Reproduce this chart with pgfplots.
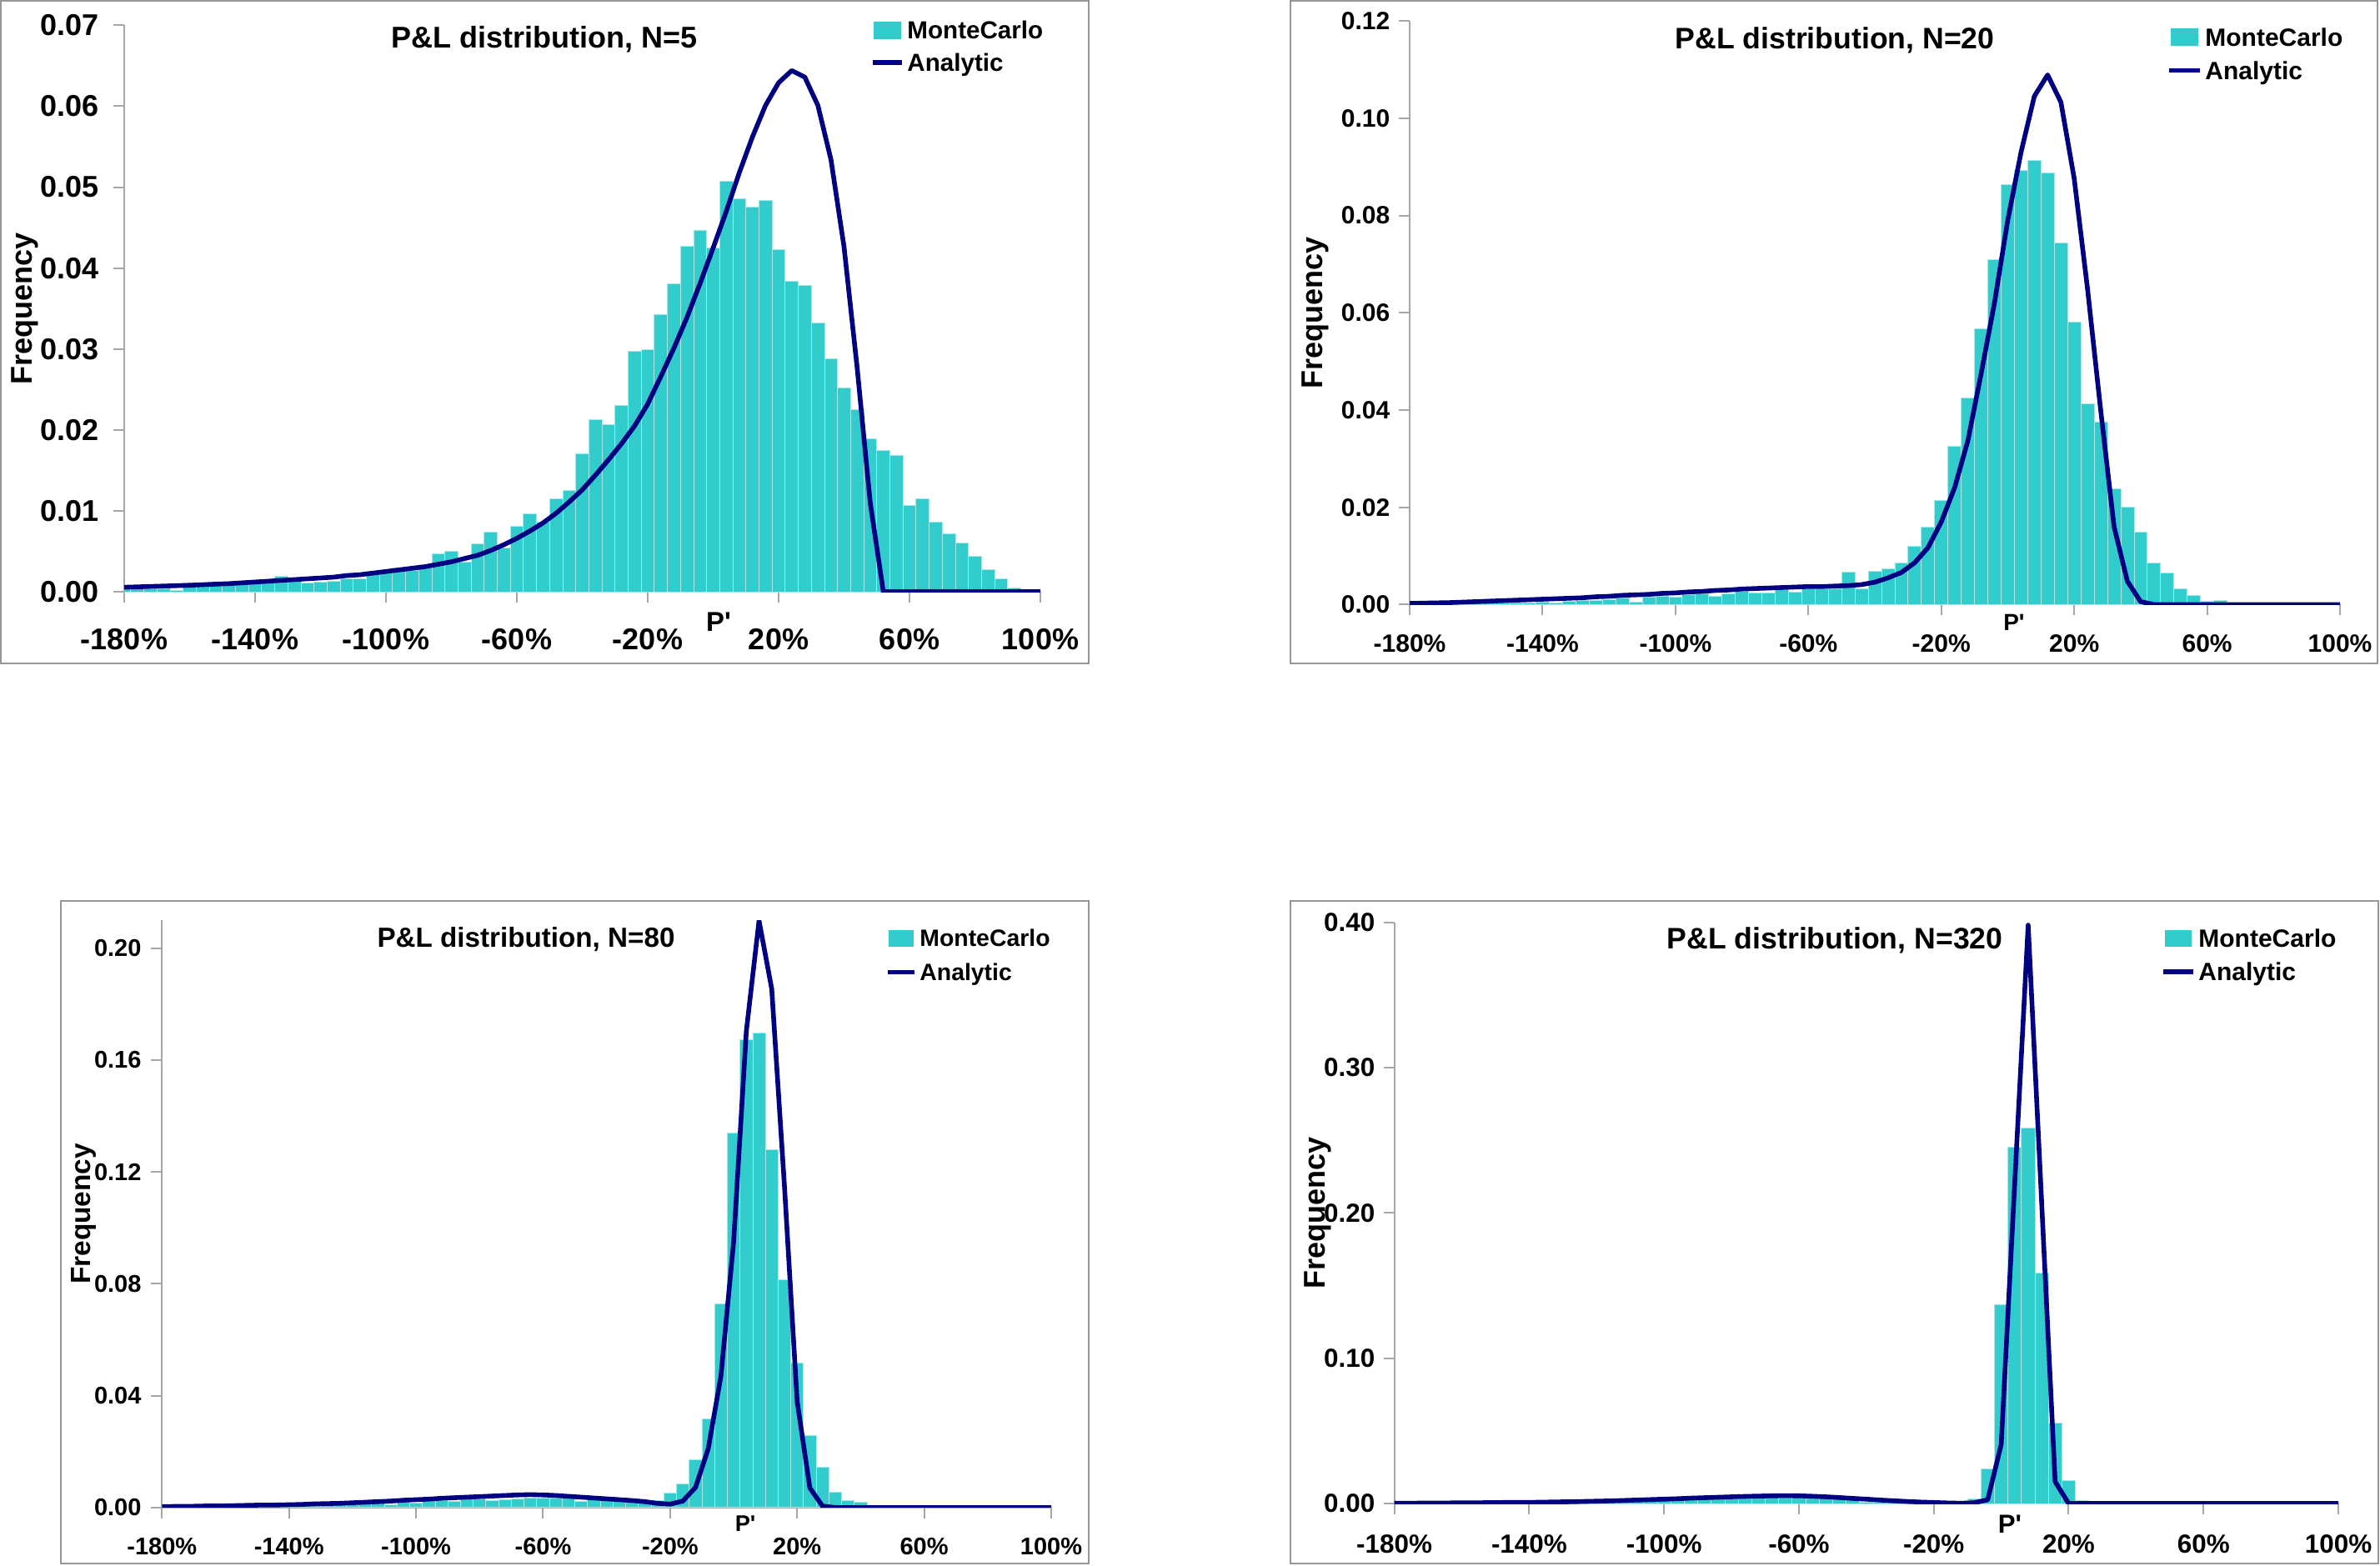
\documentclass[border=0pt]{standalone}
\usepackage{fontspec}
\setmainfont{Liberation Sans}
\usepackage{pgfplots}
\usepackage{pgfplotstable}
\pgfplotsset{compat=1.18}
\definecolor{turq}{RGB}{51,204,204}
\definecolor{navy}{RGB}{0,0,128}
\definecolor{axgray}{RGB}{166,166,166}
\definecolor{frgray}{RGB}{150,150,150}
\definecolor{barline}{RGB}{170,232,232}

\pgfplotstableread{
c mc an
-180 0.0004 0.00055
-176 0.0004 0.0006
-172 0.0004 0.00065
-168 0.0004 0.0007
-164 0.0002 0.00075
-160 0.0011 0.0008
-156 0.0010 0.00087
-152 0.0010 0.00094
-148 0.0011 0.0010
-144 0.0012 0.0011
-140 0.0013 0.0012
-136 0.0015 0.0013
-132 0.0019 0.0014
-128 0.0016 0.0015
-124 0.0011 0.0016
-120 0.0012 0.0017
-116 0.0013 0.0018
-112 0.0016 0.0020
-108 0.0016 0.0021
-104 0.0025 0.0023
-100 0.0024 0.0025
-96 0.0029 0.0027
-92 0.0026 0.0029
-88 0.0033 0.0031
-84 0.0047 0.0034
-80 0.0050 0.0037
-76 0.0037 0.0041
-72 0.0059 0.0045
-68 0.0074 0.0051
-64 0.0054 0.0058
-60 0.0081 0.0066
-56 0.0096 0.0075
-52 0.0086 0.0085
-48 0.0115 0.0097
-44 0.0125 0.0111
-40 0.0171 0.0126
-36 0.0213 0.0144
-32 0.0207 0.0163
-28 0.0230 0.0183
-24 0.0297 0.0205
-20 0.0299 0.0232
-16 0.0343 0.0266
-12 0.0381 0.0301
-8 0.0427 0.0339
-4 0.0447 0.0381
0 0.0425 0.0425
4 0.0507 0.0470
8 0.0486 0.0518
12 0.0475 0.0562
16 0.0484 0.0601
20 0.0423 0.0629
24 0.0384 0.0644
28 0.0379 0.0636
32 0.0332 0.0601
36 0.0288 0.0534
40 0.0252 0.0426
44 0.0225 0.0277
48 0.0189 0.0110
52 0.0175 0
56 0.0169 0
60 0.0107 0
64 0.0115 0
68 0.0086 0
72 0.0072 0
76 0.0060 0
80 0.0044 0
84 0.0027 0
88 0.0016 0
92 0.0005 0
96 0.0001 0
100 0 0
}\tA

\pgfplotstableread{
c mc an
-180 0.0002 0.00023
-176 0.0002 0.0003
-172 0.0002 0.00035
-168 0.0003 0.0004
-164 0.0003 0.0005
-160 0.0003 0.0006
-156 0.0003 0.0007
-152 0.0004 0.0008
-148 0.0004 0.0009
-144 0.0004 0.0010
-140 0.0005 0.0011
-136 0.0004 0.0012
-132 0.0007 0.0013
-128 0.0008 0.0014
-124 0.0008 0.0016
-120 0.0011 0.0017
-116 0.0013 0.0019
-112 0.0005 0.0020
-108 0.0016 0.0021
-104 0.0018 0.0023
-100 0.0016 0.0024
-96 0.0021 0.0026
-92 0.0023 0.0027
-88 0.0017 0.0029
-84 0.0022 0.0030
-80 0.0028 0.0032
-76 0.0024 0.0033
-72 0.0024 0.0034
-68 0.0031 0.0035
-64 0.0026 0.0036
-60 0.0032 0.0037
-56 0.0032 0.0037
-52 0.0032 0.0038
-48 0.0067 0.0039
-44 0.0033 0.0041
-40 0.0069 0.0046
-36 0.0074 0.0055
-32 0.0086 0.0066
-28 0.0120 0.0086
-24 0.0160 0.0117
-20 0.0214 0.0170
-16 0.0326 0.0240
-12 0.0425 0.0337
-8 0.0567 0.0475
-4 0.0710 0.0620
0 0.0863 0.0790
4 0.0892 0.0930
8 0.0914 0.1045
12 0.0888 0.1089
16 0.0743 0.1033
20 0.0581 0.0876
24 0.0413 0.0650
28 0.0376 0.0398
32 0.0238 0.0160
36 0.0200 0.0048
40 0.0149 0.0006
44 0.0086 0
48 0.0065 0
52 0.0032 0
56 0.0019 0
60 0.0007 0
64 0.0009 0
68 0 0
72 0 0
76 0 0
80 0 0
84 0 0
88 0 0
92 0 0
96 0 0
100 0 0
}\tB

\pgfplotstableread{
c mc an
-180 0.0002 0.0003
-176 0.0002 0.0004
-172 0.0003 0.0004
-168 0.0003 0.0005
-164 0.0004 0.0006
-160 0.0004 0.0006
-156 0.0005 0.0007
-152 0.0005 0.0008
-148 0.0006 0.0009
-144 0.0006 0.0009
-140 0.0007 0.0010
-136 0.0008 0.0011
-132 0.0009 0.0013
-128 0.0010 0.0014
-124 0.0015 0.0015
-120 0.0010 0.0017
-116 0.0013 0.0019
-112 0.0015 0.0021
-108 0.0011 0.0023
-104 0.0018 0.0026
-100 0.0015 0.0028
-96 0.0025 0.0030
-92 0.0026 0.0033
-88 0.0023 0.0035
-84 0.0030 0.0037
-80 0.0030 0.0039
-76 0.0026 0.0041
-72 0.0027 0.0043
-68 0.0032 0.0045
-64 0.0035 0.0046
-60 0.0035 0.0045
-56 0.0035 0.0043
-52 0.0034 0.0040
-48 0.0021 0.0037
-44 0.0027 0.0034
-40 0.0025 0.0031
-36 0.0023 0.0028
-32 0.0028 0.0025
-28 0.0024 0.0021
-24 0.0024 0.0015
-20 0.0051 0.0012
-16 0.0085 0.0023
-12 0.0172 0.0072
-8 0.0318 0.0210
-4 0.0728 0.0470
0 0.1338 0.0950
4 0.1672 0.1703
8 0.1696 0.2098
12 0.1279 0.1854
16 0.0815 0.1150
20 0.0518 0.0380
24 0.0259 0.0070
28 0.0145 0.0005
32 0.0054 0
36 0.0026 0
40 0.0018 0
44 0 0
48 0 0
52 0 0
56 0 0
60 0 0
64 0 0
68 0 0
72 0 0
76 0 0
80 0 0
84 0 0
88 0 0
92 0 0
96 0 0
100 0 0
}\tC

\pgfplotstableread{
c mc an
-180 0.0001 0.0002
-176 0.0001 0.0002
-172 0.0001 0.0003
-168 0.0002 0.0003
-164 0.0002 0.0004
-160 0.0002 0.0005
-156 0.0002 0.0005
-152 0.0003 0.0006
-148 0.0003 0.0007
-144 0.0003 0.0008
-140 0.0004 0.0008
-136 0.0004 0.0009
-132 0.0005 0.0011
-128 0.0005 0.0012
-124 0.0006 0.0014
-120 0.0010 0.0016
-116 0.0013 0.0018
-112 0.0015 0.0021
-108 0.0018 0.0024
-104 0.0021 0.0027
-100 0.0023 0.0030
-96 0.0026 0.0033
-92 0.0029 0.0037
-88 0.0031 0.0040
-84 0.0034 0.0043
-80 0.0030 0.0046
-76 0.0039 0.0049
-72 0.0041 0.0051
-68 0.0042 0.0053
-64 0.0043 0.0054
-60 0.0042 0.0053
-56 0.0040 0.0050
-52 0.0036 0.0046
-48 0.0032 0.0041
-44 0.0027 0.0035
-40 0.0012 0.0030
-36 0.0009 0.0024
-32 0.0007 0.0019
-28 0.0005 0.0014
-24 0.0004 0.0010
-20 0.0003 0.0007
-16 0.0004 0.0004
-12 0.0012 0.0002
-8 0.0031 0.0005
-4 0.0236 0.0026
0 0.1371 0.0406
4 0.2453 0.2200
8 0.2582 0.3980
12 0.1586 0.2070
16 0.0556 0.0150
20 0.0160 0
24 0.0021 0
28 0 0
32 0 0
36 0 0
40 0 0
44 0 0
48 0 0
52 0 0
56 0 0
60 0 0
64 0 0
68 0 0
72 0 0
76 0 0
80 0 0
84 0 0
88 0 0
92 0 0
96 0 0
100 0 0
}\tD

\pgfplotsset{
  pl/.style={
    scale only axis,
    axis lines=left,
    axis line style={-, draw=axgray, line width=0.5pt},
    tick style={draw=axgray, line width=0.5pt},
    tick align=outside,
    major tick length=3.25pt,
    xmin=-180, xmax=100, ymin=0,
    xtick={-180,-140,-100,-60,-20,20,60,100},
    xticklabels={-180\%,-140\%,-100\%,-60\%,-20\%,20\%,60\%,100\%},
    scaled y ticks=false,
    /pgf/number format/assume math mode=true,
    yticklabel style={/pgf/number format/fixed, /pgf/number format/fixed zerofill, /pgf/number format/precision=2, anchor=east, inner sep=0pt},
    xticklabel style={anchor=base, inner sep=0pt},
    legend cell align=left,
  },
  mcbar/.style={ybar, bar width=4, bar shift=0pt, fill=turq, draw=barline, line width=0.2pt},
  anline/.style={sharp plot, no marks, draw=navy, line width=1.4pt, line join=round},
}

\begin{document}
\begin{tikzpicture}
\useasboundingbox (0,0) rectangle (713.75pt,469.5pt);
\draw[frgray, line width=0.5pt] (0.25pt,469.25pt) rectangle (326.5pt,270.5pt);
\draw[frgray, line width=0.5pt] (387pt,469.25pt) rectangle (713pt,270.5pt);
\draw[frgray, line width=0.5pt] (18.25pt,199.35pt) rectangle (326.5pt,0.5pt);
\draw[frgray, line width=0.5pt] (387pt,199.35pt) rectangle (713.25pt,0.5pt);

% ---------- Panel 1: N=5
\begin{axis}[pl,
  at={(37.25pt,292pt)}, anchor=south west,
  width=274.75pt, height=169.925pt,
  ymax=0.07, ytick={0,0.01,0.02,0.03,0.04,0.05,0.06,0.07},
  tick label style={font=\fontsize{9}{10}\selectfont\bfseries},
  yticklabel style={xshift=-4.25pt},
  xticklabel style={yshift=-14pt},
  title={P\&L distribution, N=5},
  every axis title/.style={at={(axis description cs:0.4586,0.9593)}, anchor=base, inner sep=0pt, font=\fontsize{9}{10}\selectfont\bfseries},
  xlabel={P\textquotesingle},
  every axis x label/.style={at={(axis description cs:0.6488,-0.0706)}, anchor=base, inner sep=0pt, font=\fontsize{8.2}{9}\selectfont\bfseries},
  ylabel={Frequency},
  every axis y label/.style={at={(axis description cs:-0.101,0.5)}, rotate=90, anchor=base, inner sep=0pt, font=\fontsize{9}{10}\selectfont\bfseries},
  legend style={at={(axis description cs:0.8135,1.0083)}, anchor=north west, draw=none, fill=none, inner sep=0pt, row sep=2.8pt, font=\fontsize{7.4}{8}\selectfont\bfseries, nodes={inner xsep=1pt, inner ysep=0pt}},
]
\addplot[mcbar, legend image code/.code={\fill[turq] (0.375pt,-1.75pt) rectangle (8.375pt,3.25pt);}] table[x=c,y=mc]{\tA};
\addlegendentry{MonteCarlo}
\addplot[anline, legend image code/.code={\draw[navy, line width=1.4pt] (0pt,0.7pt) -- (8.75pt,0.7pt);}] table[x=c,y=an]{\tA};
\addlegendentry{Analytic}
\end{axis}

% ---------- Panel 2: N=20
\begin{axis}[pl,
  at={(422.75pt,288.15pt)}, anchor=south west,
  width=279pt, height=175.075pt,
  ymax=0.12, ytick={0,0.02,0.04,0.06,0.08,0.10,0.12},
  tick label style={font=\fontsize{7.5}{9}\selectfont\bfseries},
  yticklabel style={xshift=-2.5pt},
  xticklabel style={yshift=-10.9pt},
  title={P\&L distribution, N=20},
  every axis title/.style={at={(axis description cs:0.457,0.9522)}, anchor=base, inner sep=0pt, font=\fontsize{8.9}{10}\selectfont\bfseries},
  xlabel={P\textquotesingle},
  every axis x label/.style={at={(axis description cs:0.6496,-0.0448)}, anchor=base, inner sep=0pt, font=\fontsize{7}{8}\selectfont\bfseries},
  ylabel={Frequency},
  every axis y label/.style={at={(axis description cs:-0.0941,0.5)}, rotate=90, anchor=base, inner sep=0pt, font=\fontsize{9}{10}\selectfont\bfseries},
  legend style={at={(axis description cs:0.8127,0.989)}, anchor=north west, draw=none, fill=none, inner sep=0pt, row sep=3.0pt, font=\fontsize{7.5}{8}\selectfont\bfseries, nodes={inner xsep=1pt, inner ysep=0pt}},
]
\addplot[mcbar, legend image code/.code={\fill[turq] (0.625pt,-1.75pt) rectangle (8.625pt,3.25pt);}] table[x=c,y=mc]{\tB};
\addlegendentry{MonteCarlo}
\addplot[anline, legend image code/.code={\draw[navy, line width=1.4pt] (0pt,0.7pt) -- (9.25pt,0.7pt);}] table[x=c,y=an]{\tB};
\addlegendentry{Analytic}
\end{axis}

% ---------- Panel 3: N=80
\begin{axis}[pl,
  at={(48.575pt,17.3pt)}, anchor=south west,
  width=266.675pt, height=176.2pt,
  ymax=0.21, ytick={0,0.04,0.08,0.12,0.16,0.20},
  tick label style={font=\fontsize{7.25}{8.5}\selectfont\bfseries},
  yticklabel style={xshift=-2.75pt},
  xticklabel style={yshift=-11pt},
  title={P\&L distribution, N=80},
  every axis title/.style={at={(axis description cs:0.4094,0.9546)}, anchor=base, inner sep=0pt, font=\fontsize{8.3}{10}\selectfont\bfseries},
  xlabel={P\textquotesingle},
  every axis x label/.style={at={(axis description cs:0.656,-0.04)}, anchor=base, inner sep=0pt, font=\fontsize{6.8}{8}\selectfont\bfseries},
  ylabel={Frequency},
  every axis y label/.style={at={(axis description cs:-0.0809,0.5)}, rotate=90, anchor=base, inner sep=0pt, font=\fontsize{8.35}{10}\selectfont\bfseries},
  legend style={at={(axis description cs:0.8125,0.9852)}, anchor=north west, draw=none, fill=none, inner sep=0pt, row sep=3.5pt, font=\fontsize{7.1}{8}\selectfont\bfseries, nodes={inner xsep=1pt, inner ysep=0pt}},
]
\addplot[mcbar, legend image code/.code={\fill[turq] (0.375pt,-1.6pt) rectangle (7.625pt,3pt);}] table[x=c,y=mc]{\tC};
\addlegendentry{MonteCarlo}
\addplot[anline, legend image code/.code={\draw[navy, line width=1.4pt] (0pt,0.7pt) -- (8pt,0.7pt);}] table[x=c,y=an]{\tC};
\addlegendentry{Analytic}
\end{axis}

% ---------- Panel 4: N=320
\begin{axis}[pl,
  at={(418.15pt,18.5pt)}, anchor=south west,
  width=283.1pt, height=174.375pt,
  ymax=0.40, ytick={0,0.1,0.2,0.3,0.4},
  tick label style={font=\fontsize{7.85}{9}\selectfont\bfseries},
  yticklabel style={xshift=-2.4pt},
  xticklabel style={yshift=-11.5pt},
  title={P\&L distribution, N=320},
  every axis title/.style={at={(axis description cs:0.4667,0.9538)}, anchor=base, inner sep=0pt, font=\fontsize{8.9}{10}\selectfont\bfseries},
  xlabel={P\textquotesingle},
  every axis x label/.style={at={(axis description cs:0.652,-0.0509)}, anchor=base, inner sep=0pt, font=\fontsize{7.8}{9}\selectfont\bfseries},
  ylabel={Frequency},
  every axis y label/.style={at={(axis description cs:-0.0738,0.5)}, rotate=90, anchor=base, inner sep=0pt, font=\fontsize{9}{10}\selectfont\bfseries},
  legend style={at={(axis description cs:0.811,0.9895)}, anchor=north west, draw=none, fill=none, inner sep=0pt, row sep=3.1pt, font=\fontsize{7.5}{8}\selectfont\bfseries, nodes={inner xsep=1pt, inner ysep=0pt}},
]
\addplot[mcbar, legend image code/.code={\fill[turq] (0.625pt,-1.6pt) rectangle (8.375pt,3pt);}] table[x=c,y=mc]{\tD};
\addlegendentry{MonteCarlo}
\addplot[anline, legend image code/.code={\draw[navy, line width=1.4pt] (0pt,0.7pt) -- (9pt,0.7pt);}] table[x=c,y=an]{\tD};
\addlegendentry{Analytic}
\end{axis}
\end{tikzpicture}
\end{document}
